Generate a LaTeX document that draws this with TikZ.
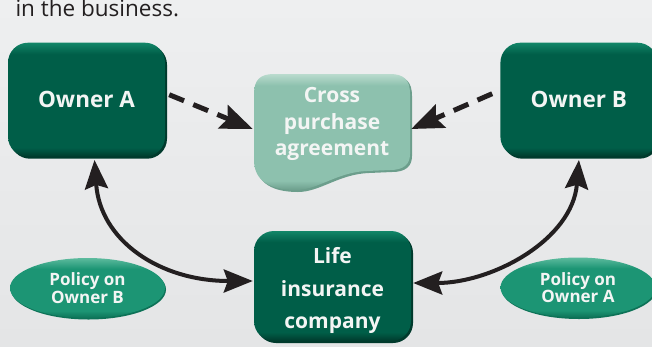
\documentclass[tikz,border=0pt]{standalone}
\usepackage{fontspec}
\setmainfont{Open Sans}
\usepackage{xcolor}
\usepackage{tikz}
\usetikzlibrary{arrows.meta,positioning,shadows,shapes.geometric}

\definecolor{bgtop}{HTML}{EEEFF0}
\definecolor{bgbottom}{HTML}{E4E5E6}
\definecolor{boxgreen}{HTML}{005E48}
\definecolor{boxdark}{HTML}{003A2C}
\definecolor{boxlight}{HTML}{128668}
\definecolor{agreegreen}{HTML}{8DC1AE}
\definecolor{agreelight}{HTML}{BADBCE}
\definecolor{agreedark}{HTML}{6C9E8C}
\definecolor{ellgreen}{HTML}{1C9574}
\definecolor{elllight}{HTML}{5DBB9E}
\definecolor{elldark}{HTML}{0D7257}
\definecolor{boxtext}{HTML}{F3F5F4}
\definecolor{arrowblack}{HTML}{231F20}

\pgfdeclareverticalshading{boxshade}{100bp}{color(0bp)=(boxdark); color(25bp)=(boxdark); color(29bp)=(boxgreen); color(70bp)=(boxgreen); color(75bp)=(boxlight); color(100bp)=(boxlight)}
\pgfdeclareverticalshading{agreeshade}{100bp}{color(0bp)=(agreedark); color(25bp)=(agreedark); color(29bp)=(agreegreen); color(70bp)=(agreegreen); color(75bp)=(agreelight); color(100bp)=(agreelight)}
\pgfdeclareverticalshading{ellshade}{100bp}{color(0bp)=(elldark); color(25bp)=(elldark); color(31bp)=(ellgreen); color(66bp)=(ellgreen); color(75bp)=(elllight); color(100bp)=(elllight)}

\begin{document}
\begin{tikzpicture}[x=1pt,y=-1pt,line cap=butt,node distance=2cm]
  \tikzstyle{ownerbox}=[rectangle,rounded corners=20pt,shading=boxshade,text=boxtext,align=center,
      font=\fontsize{22.5}{26}\selectfont\bfseries,minimum width=157pt,minimum height=114pt,inner sep=0pt,
      drop shadow={shadow xshift=2pt,shadow yshift=-2pt,fill=boxdark,opacity=1}]
  \tikzstyle{lifebox}=[ownerbox,font=\fontsize{21}{32.5}\selectfont\bfseries,minimum height=110pt]
  \tikzstyle{policy}=[ellipse,shading=ellshade,text=boxtext,align=center,inner sep=0pt,
      font=\fontsize{17}{17.3}\selectfont\bfseries,minimum width=155pt,minimum height=60pt,
      drop shadow={shadow xshift=1pt,shadow yshift=-1.5pt,fill=elldark,opacity=1}]
  \tikzstyle{dasharrow}=[-{Stealth[length=32pt,width=25pt,inset=5pt]},line width=5pt,
      dash pattern=on 16pt off 10pt,draw=arrowblack]
  \tikzstyle{curvearrow}=[{Stealth[length=29pt,width=23pt,inset=4pt]}-{Stealth[length=29pt,width=23pt,inset=4pt]},
      line width=4pt,draw=arrowblack]

  \useasboundingbox (0,0) rectangle (652,346);
  \clip (0,0) rectangle (652,346);
  \fill[top color=bgtop,bottom color=bgbottom] (0,0) rectangle (652,346);

  \node[anchor=base west,text=arrowblack,font=\fontsize{22.5}{26}\selectfont] (intro) at (12,16) {in the business.};

  % the agreement is a wavy sheet
  \node[minimum width=156pt,minimum height=116pt,inner sep=0pt] (agree) at (332,132) {};
  \path[shading=agreeshade,drop shadow={shadow xshift=2pt,shadow yshift=-2pt,fill=agreedark,opacity=1},shift={(agree.center)}]
      (-78,-38) -- (-78,28) .. controls (-78,50) and (-60,58) .. (-36,58)
      .. controls (-14,58) and (5,40) .. (35,39) -- (58,38) .. controls (72,38) and (78,32) .. (78,22)
      -- (78,-38) .. controls (78,-52) and (72,-58) .. (58,-58) -- (-58,-58)
      .. controls (-72,-58) and (-78,-52) .. (-78,-38) -- cycle;
  \node[text=boxtext,align=center,font=\fontsize{21}{26.5}\selectfont\bfseries] (agreetxt)
      at ([yshift=8pt]agree.center) {Cross\\purchase\\agreement};

  \node[ownerbox] 		(ownerA) at (86.5,99.7)		{Owner A};
  \node[ownerbox] 		(ownerB) [right=335pt of ownerA]	{Owner B};
  \node[lifebox]  		(life)   at (332.5,286)		{\rule{0pt}{26pt}Life\\insurance\\company};
  \node[policy]   		(polB)   at (87.5,288)		{Policy on\\Owner B};
  \node[policy]   		(polA)   at (578,287.5)		{Policy on\\Owner A};

  \draw[dasharrow] ([xshift=4pt,yshift=5pt]ownerA.east) -- ([xshift=-1pt,yshift=3pt]agree.west);
  \draw[dasharrow] ([xshift=-8pt,yshift=6pt]ownerB.west) -- ([xshift=1pt,yshift=3pt]agree.east);

  \draw[curvearrow] ([xshift=8pt,yshift=-3pt]ownerA.south) .. controls +(5.5,80) and +(-94,0) .. ([xshift=-1pt,yshift=5pt]life.west);
  \draw[curvearrow] ([yshift=-3pt]ownerB.south) .. controls +(-6.5,80) and +(79,0) .. ([xshift=2pt,yshift=3pt]life.east);
\end{tikzpicture}
\end{document}
